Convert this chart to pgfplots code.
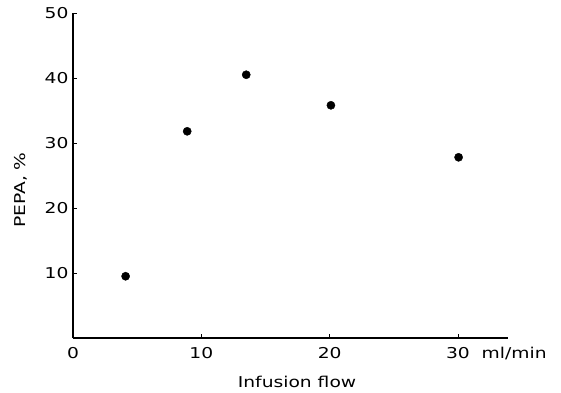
\documentclass[border=0pt]{standalone}
\usepackage{fontspec}
\setmainfont{DejaVu Sans}[FakeStretch=1.25]
\usepackage{pgfplots}
\pgfplotsset{compat=1.18}
\begin{document}
\begin{tikzpicture}
\begin{axis}[
  scale only axis, width=435bp, height=325bp,
  xmin=0, xmax=33.9, ymin=0, ymax=50,
  axis x line*=bottom, axis y line*=left,
  axis line style={line width=1.2bp, -},
  xtick={0,10,20,30}, ytick={10,20,30,40,50},
  xticklabels={0,10,20,{30\rlap{\ \ ml/min}}},
  tick align=inside, major tick length=4bp,
  tick style={line width=0.9bp, black},
  /pgf/number format/assume math mode=true,
  tick label style={font=\fontsize{15}{17}\selectfont},
  yticklabel style={xshift=-1bp},
  xticklabel style={yshift=-6bp},
  label style={font=\fontsize{15}{17}\selectfont},
  xlabel={Infusion flow},
  ylabel={PEPA, \%},
  xlabel style={at={(axis description cs:0.515,-0.135)}, anchor=center},
  ylabel style={at={(axis description cs:-0.1195,0.455)}, anchor=center},
  clip=false,
]
\addplot[only marks, mark=*, mark size=4.1bp, black] coordinates {
  (4.1,9.5) (8.9,31.8) (13.5,40.5) (20.1,35.8) (30.05,27.8)
};
\end{axis}
\path[use as bounding box] ([xshift=-73bp,yshift=-55bp]current axis.south west) rectangle ([xshift=53bp,yshift=13bp]current axis.north east);
\end{tikzpicture}
\end{document}
